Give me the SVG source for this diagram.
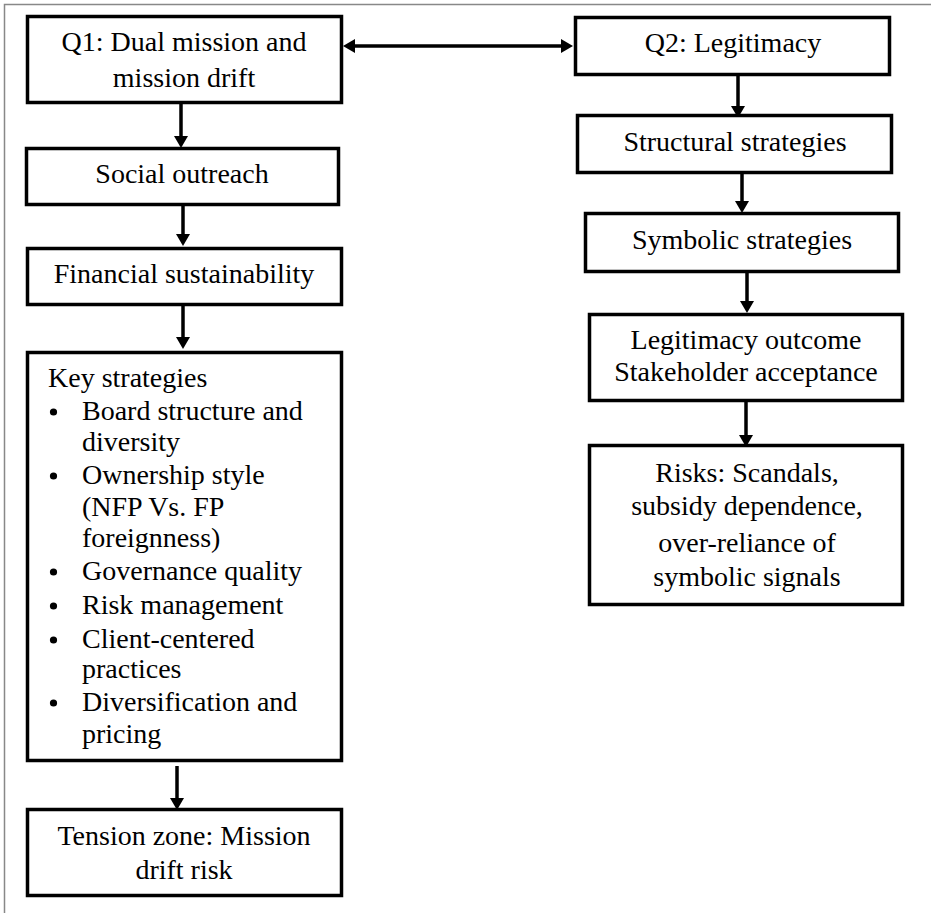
<svg xmlns="http://www.w3.org/2000/svg" width="931" height="913" viewBox="0 0 931 913">
<style>
.box{fill:#fff;stroke:#000;stroke-width:3.5}
text{font-family:'Liberation Serif',serif;font-size:28px;fill:#000}
.c{text-anchor:middle}
.con{stroke:#000;stroke-width:3.5;fill:none;marker-end:url(#ah)}
.frame{stroke:#888;stroke-width:1.5;fill:none}
</style>
<defs>
<marker id="ah" viewBox="0 0 12 14" refX="6" refY="7" markerWidth="12" markerHeight="14" markerUnits="userSpaceOnUse" orient="auto-start-reverse">
<path d="M0,0 L12,7 L0,14 z" fill="#000"/>
</marker>
</defs>
<rect width="931" height="913" fill="#fff"/>
<path class="frame" d="M4.5,913 V4.5 H931"/>

<g id="connectors">
<line class="con" x1="181" y1="104" x2="181" y2="142"/>
<line class="con" x1="183" y1="201" x2="183" y2="240"/>
<line class="con" x1="183" y1="306" x2="183" y2="343"/>
<line class="con" x1="177" y1="766" x2="177" y2="804"/>
<line class="con" x1="738" y1="76" x2="738" y2="112"/>
<line class="con" x1="742" y1="169" x2="742" y2="207"/>
<line class="con" x1="747" y1="269" x2="747" y2="307"/>
<line class="con" x1="746" y1="402" x2="746" y2="441"/>
<line class="con" x1="349" y1="46" x2="567" y2="46" style="marker-start:url(#ah)"/>
</g>

<g id="q1" font-family="Liberation Serif, serif">
<rect class="box" x="27.5" y="16.5" width="314" height="86"/>
<text class="c" x="184" y="51">Q1: Dual mission and</text>
<text class="c" x="184" y="87">mission drift</text>
</g>
<g id="social">
<rect class="box" x="26.5" y="148.5" width="312" height="56"/>
<text class="c" x="182" y="183">Social outreach</text>
</g>
<g id="financial">
<rect class="box" x="27.5" y="248.5" width="314" height="56"/>
<text class="c" x="184" y="283">Financial sustainability</text>
</g>
<g id="key">
<rect class="box" x="27.5" y="352.5" width="314" height="408"/>
<text x="48" y="387">Key strategies</text>
<circle cx="53.5" cy="412" r="3.6"/>
<text x="82" y="420">Board structure and</text>
<text x="82" y="451">diversity</text>
<circle cx="53.5" cy="476" r="3.6"/>
<text x="82" y="484">Ownership style</text>
<text x="82" y="516">(NFP Vs. FP</text>
<text x="82" y="547">foreignness)</text>
<circle cx="53.5" cy="572" r="3.6"/>
<text x="82" y="580">Governance quality</text>
<circle cx="53.5" cy="606" r="3.6"/>
<text x="82" y="614">Risk management</text>
<circle cx="53.5" cy="640" r="3.6"/>
<text x="82" y="648">Client-centered</text>
<text x="82" y="678">practices</text>
<circle cx="53.5" cy="703" r="3.6"/>
<text x="82" y="711">Diversification and</text>
<text x="82" y="743">pricing</text>
</g>
<g id="tension">
<rect class="box" x="27.5" y="809.5" width="314" height="86"/>
<text class="c" x="184" y="845">Tension zone: Mission</text>
<text class="c" x="184" y="879">drift risk</text>
</g>
<g id="q2">
<rect class="box" x="575.5" y="17.5" width="314" height="57"/>
<text class="c" x="733" y="52">Q2: Legitimacy</text>
</g>
<g id="structural">
<rect class="box" x="577.5" y="115.5" width="314" height="57"/>
<text class="c" x="735" y="151">Structural strategies</text>
</g>
<g id="symbolic">
<rect class="box" x="585.5" y="213.5" width="313" height="58"/>
<text class="c" x="742" y="249">Symbolic strategies</text>
</g>
<g id="legitimacy">
<rect class="box" x="589.5" y="314.5" width="313" height="86"/>
<text class="c" x="746" y="349">Legitimacy outcome</text>
<text class="c" x="746" y="381">Stakeholder acceptance</text>
</g>
<g id="risks">
<rect class="box" x="589.5" y="445.5" width="313" height="159"/>
<text class="c" x="747" y="482">Risks: Scandals,</text>
<text class="c" x="747" y="515">subsidy dependence,</text>
<text class="c" x="747" y="552">over-reliance of</text>
<text class="c" x="747" y="586">symbolic signals</text>
</g>
</svg>
